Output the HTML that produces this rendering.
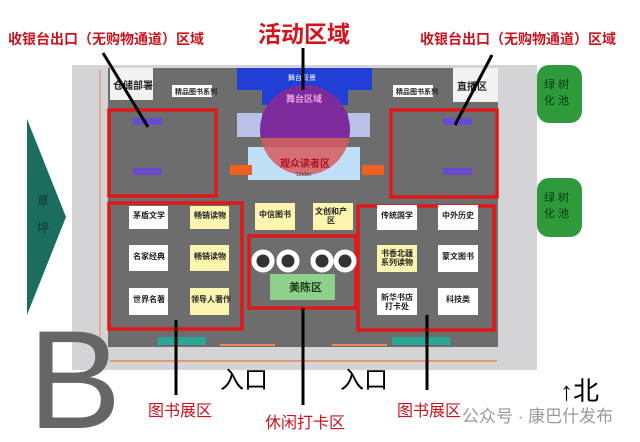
<!DOCTYPE html>
<html><head><meta charset="utf-8"><style>
html,body{margin:0;padding:0;background:#fff;}
svg{display:block;font-family:"Liberation Sans","Noto Sans CJK SC",sans-serif;}
</style></head><body>
<svg width="640" height="442" viewBox="0 0 640 442" xmlns="http://www.w3.org/2000/svg">
<rect width="640" height="442" fill="#fff"/>
<text x="8" y="44" font-size="14" fill="#c8141e" font-weight="bold">收银台出口（无购物通道）区域</text>
<text x="258" y="42" font-size="23" fill="#d2141e" font-weight="bold">活动区域</text>
<text x="420" y="44" font-size="14" fill="#c8141e" font-weight="bold">收银台出口（无购物通道）区域</text>
<polygon points="27,119 66,217 27,315" fill="#1b6d5e"/>
<text x="37" y="205" font-size="12" fill="#0d3a30">草</text>
<text x="37" y="232" font-size="12" fill="#0d3a30">坪</text>
<rect x="72" y="65" width="465" height="305" fill="#d4d4d6"/>
<line x1="100" y1="70" x2="100" y2="345" stroke="#e08a5a" stroke-width="1"/>
<line x1="110" y1="361" x2="497" y2="361" stroke="#e08a5a" stroke-width="1.5"/>
<rect x="108" y="68" width="390" height="279" fill="#6d6d6d"/>
<rect x="110" y="68" width="43" height="32" fill="#f2f2f2"/>
<text x="113" y="89" font-size="10" font-weight="bold" fill="#222">仓储部署</text>
<rect x="453" y="68" width="45" height="34" fill="#f2f2f2"/>
<text x="457" y="90" font-size="10" font-weight="bold" fill="#222">直播区</text>
<rect x="172" y="85" width="40" height="12" fill="#fff"/>
<text x="175" y="94" font-size="7" font-weight="bold" fill="#222">精品图书系列</text>
<rect x="393" y="85" width="40" height="12" fill="#fff"/>
<text x="396" y="94" font-size="7" font-weight="bold" fill="#222">精品图书系列</text>
<rect x="237" y="68" width="135" height="22" fill="#1f3fd6"/>
<rect x="262" y="88" width="86" height="17" fill="#1f3fd6"/>
<text x="288" y="80" font-size="7" fill="#fff">舞台背景</text>
<rect x="237" y="113" width="25" height="24" fill="#b9c2e6"/>
<rect x="348" y="113" width="22" height="24" fill="#b9c2e6"/>
<rect x="248" y="147" width="112" height="33" fill="#bfe0f6"/>
<defs><clipPath id="up"><rect x="250" y="80" width="110" height="58"/></clipPath>
<clipPath id="dn"><rect x="250" y="138" width="110" height="45"/></clipPath></defs>
<circle cx="305" cy="130" r="45" fill="#7c2a9c" clip-path="url(#up)"/>
<circle cx="305" cy="130" r="45" fill="#d65a5e" opacity="0.85" clip-path="url(#dn)"/>
<text x="286" y="102" font-size="9" fill="#f0a0e0" font-weight="bold">舞台区域</text>
<text x="280" y="167" font-size="10" fill="#b01020" font-weight="bold">观众读者区</text>
<text x="296" y="176" font-size="5" fill="#333">12x3m</text>
<rect x="230" y="165" width="22" height="10" fill="#f06020"/>
<rect x="362" y="165" width="22" height="10" fill="#f06020"/>
<g fill="none" stroke="#e01818" stroke-width="3.5">
<rect x="109" y="110" width="107" height="86"/>
<rect x="391" y="110" width="106" height="87"/>
<rect x="109" y="203" width="133" height="126"/>
<rect x="358" y="206" width="136" height="124"/>
<rect x="249" y="236" width="107" height="72"/>
</g>
<rect x="133" y="118" width="29" height="7" fill="#6a4ad0"/>
<rect x="133" y="168" width="29" height="7" fill="#6a4ad0"/>
<rect x="443" y="118" width="29" height="7" fill="#6a4ad0"/>
<rect x="443" y="168" width="29" height="7" fill="#6a4ad0"/>
<g font-size="8" font-weight="bold" fill="#222">
<rect x="129" y="206" width="39" height="23" fill="#fff"/><text x="133" y="218">茅盾文学</text>
<rect x="190" y="206" width="39" height="23" fill="#fbf5b0"/><text x="194" y="218">畅销读物</text>
<rect x="129" y="245" width="39" height="26" fill="#fff"/><text x="133" y="259">名家经典</text>
<rect x="190" y="245" width="39" height="26" fill="#fbf5b0"/><text x="194" y="259">畅销读物</text>
<rect x="129" y="288" width="39" height="27" fill="#fff"/><text x="133" y="302">世界名著</text>
<rect x="190" y="288" width="39" height="27" fill="#fbf5b0"/><text x="191" y="302">领导人著作</text>
<rect x="255" y="203" width="40" height="27" fill="#fbf5b0"/><text x="259" y="217">中信图书</text>
<rect x="313" y="203" width="40" height="27" fill="#fbf5b0"/><text x="315" y="214">文创和产</text><text x="327" y="223">区</text>
<rect x="377" y="205" width="40" height="25" fill="#fff"/><text x="381" y="218">传统国学</text>
<rect x="438" y="205" width="40" height="25" fill="#fff"/><text x="442" y="218">中外历史</text>
<rect x="377" y="245" width="40" height="27" fill="#fbf5b0"/><text x="381" y="256">书香北疆</text><text x="381" y="265">系列读物</text>
<rect x="438" y="245" width="40" height="27" fill="#fff"/><text x="442" y="259">蒙文图书</text>
<rect x="377" y="288" width="40" height="27" fill="#fff"/><text x="381" y="300">新华书店</text><text x="385" y="309">打卡处</text>
<rect x="438" y="288" width="40" height="27" fill="#fff"/><text x="446" y="302">科技类</text>
</g>
<g fill="#333" stroke="#fff" stroke-width="5">
<circle cx="263" cy="261" r="9"/><circle cx="288" cy="261" r="9"/><circle cx="322" cy="261" r="9"/><circle cx="345" cy="261" r="9"/>
</g>
<rect x="270" y="274" width="65" height="26" fill="#8fd08a"/>
<text x="289" y="291" font-size="11" font-weight="bold" fill="#1a3a1a">美陈区</text>
<rect x="158" y="337" width="48" height="8" fill="#2aa596"/>
<rect x="392" y="337" width="58" height="8" fill="#2aa596"/>
<line x1="220" y1="345" x2="275" y2="345" stroke="#e08a5a" stroke-width="2"/>
<line x1="332" y1="345" x2="387" y2="345" stroke="#e08a5a" stroke-width="2"/>
<rect x="537" y="65" width="45" height="58" rx="12" fill="#2e9a3c"/>
<text x="544" y="88" font-size="11" fill="#0a3a10">绿 树</text><text x="544" y="104" font-size="11" fill="#0a3a10">化 池</text>
<rect x="537" y="178" width="45" height="59" rx="12" fill="#2e9a3c"/>
<text x="544" y="201" font-size="11" fill="#0a3a10">绿 树</text><text x="544" y="217" font-size="11" fill="#0a3a10">化 池</text>
<text x="28" y="428" font-size="140" fill="#666">B</text>
<g stroke="#000" stroke-width="3">
<line x1="103" y1="53" x2="148" y2="127"/>
<line x1="303" y1="48" x2="303" y2="90"/>
<line x1="492" y1="55" x2="455" y2="125"/>
<line x1="176" y1="320" x2="176" y2="395"/>
<line x1="303" y1="308" x2="303" y2="405"/>
<line x1="427" y1="315" x2="427" y2="390"/>
</g>
<text x="220" y="388" font-size="24" fill="#000">入口</text>
<text x="340" y="388" font-size="24" fill="#000">入口</text>
<text x="560" y="400" font-size="26" fill="#000">↑北</text>
<text x="148" y="416" font-size="16" fill="#c8141e">图书展区</text>
<text x="265" y="428" font-size="16" fill="#c8141e">休闲打卡区</text>
<text x="397" y="416" font-size="16" fill="#c8141e">图书展区</text>
<text x="462" y="422" font-size="17" fill="#999">公众号 · 康巴什发布</text>
</svg>
</body></html>
